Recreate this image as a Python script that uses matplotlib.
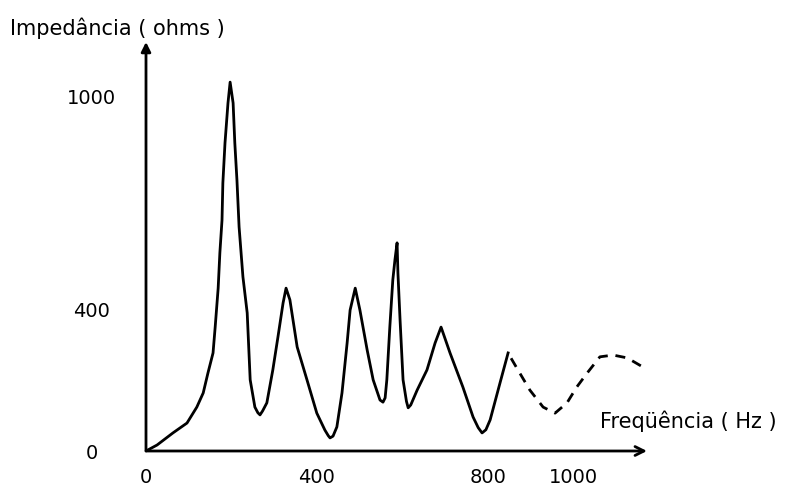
import matplotlib
matplotlib.use("Agg")
import matplotlib.pyplot as plt

# Curva de impedância
freq = [0, 26, 63, 96, 119, 134, 145, 157, 162, 169, 173, 178, 180, 185, 192,
        197, 204, 208, 213, 218, 227, 237, 244, 255, 262, 267, 273, 283, 297,
        309, 321, 328, 337, 354, 377, 400, 419, 427, 431, 438, 447, 459, 471,
        478, 490, 501, 518, 532, 548, 555, 560, 564, 571, 578, 583, 588, 590,
        595, 602, 610, 614, 620, 635, 658, 677, 691, 712, 742, 766, 778, 787,
        796, 806, 829, 848]
imped = [0, 17, 51, 79, 124, 164, 220, 277, 350, 460, 560, 652, 757, 870, 983,
         1042, 983, 870, 765, 633, 492, 390, 201, 124, 108, 102, 113, 136, 229,
         322, 418, 460, 427, 294, 201, 107, 59, 43, 37, 42, 68, 164, 305, 398,
         460, 398, 285, 201, 144, 138, 150, 201, 350, 483, 540, 588, 503, 370,
         201, 140, 122, 130, 172, 229, 305, 350, 277, 181, 96, 66, 51, 60, 88,
         192, 277]

# trecho extrapolado (tracejado)
freq_ext = [855, 871, 899, 930, 958, 986, 1009, 1033, 1063, 1094, 1127, 1164]
imped_ext = [262, 229, 172, 124, 107, 136, 181, 220, 266, 271, 263, 237]

x_ticks = [0, 400, 800, 1000]
y_ticks = [0, 400, 1000]

W, H = 807, 486
fig = plt.figure(figsize=(W / 100, H / 100), dpi=100)
ax = fig.add_axes([146 / W, (H - 451) / H, (647 - 146) / W, (451 - 42) / H])

ax.plot(freq, imped, color="black", lw=2.0)
ax.plot(freq_ext, imped_ext, color="black", lw=2.0, linestyle=(0, (3.6, 2.8)))

ax.set_xlim(0, (647 - 146) / 0.427)
ax.set_ylim(0, (451 - 42) / 0.354)

for s in ax.spines.values():
    s.set_visible(False)

# eixos com setas
ax.annotate("", xy=(1, 0), xytext=(0, 0), xycoords="axes fraction",
            arrowprops=dict(arrowstyle="->", lw=2.0, color="black",
                            mutation_scale=16, shrinkA=0, shrinkB=0))
ax.annotate("", xy=(0, 1), xytext=(0, 0), xycoords="axes fraction",
            arrowprops=dict(arrowstyle="-|>", lw=2.0, color="black",
                            mutation_scale=14, shrinkA=0, shrinkB=0))

ax.set_xticks(x_ticks)
ax.set_xticklabels([str(v) for v in x_ticks])
ax.set_yticks(y_ticks)
ax.set_yticklabels([str(v) for v in y_ticks])
ax.tick_params(length=0, labelsize=14)
ax.tick_params(axis="x", pad=12)
ax.tick_params(axis="y", pad=39)
for lab in ax.get_yticklabels():
    lab.set_horizontalalignment("center")

fig.text(10 / W, 1 - 28 / H, "Impedância ( ohms )", fontsize=15,
         ha="left", va="center")
fig.text(600 / W, 1 - 421 / H, "Freqüência ( Hz )", fontsize=15,
         ha="left", va="center")

fig.savefig("out.png", dpi=100)
